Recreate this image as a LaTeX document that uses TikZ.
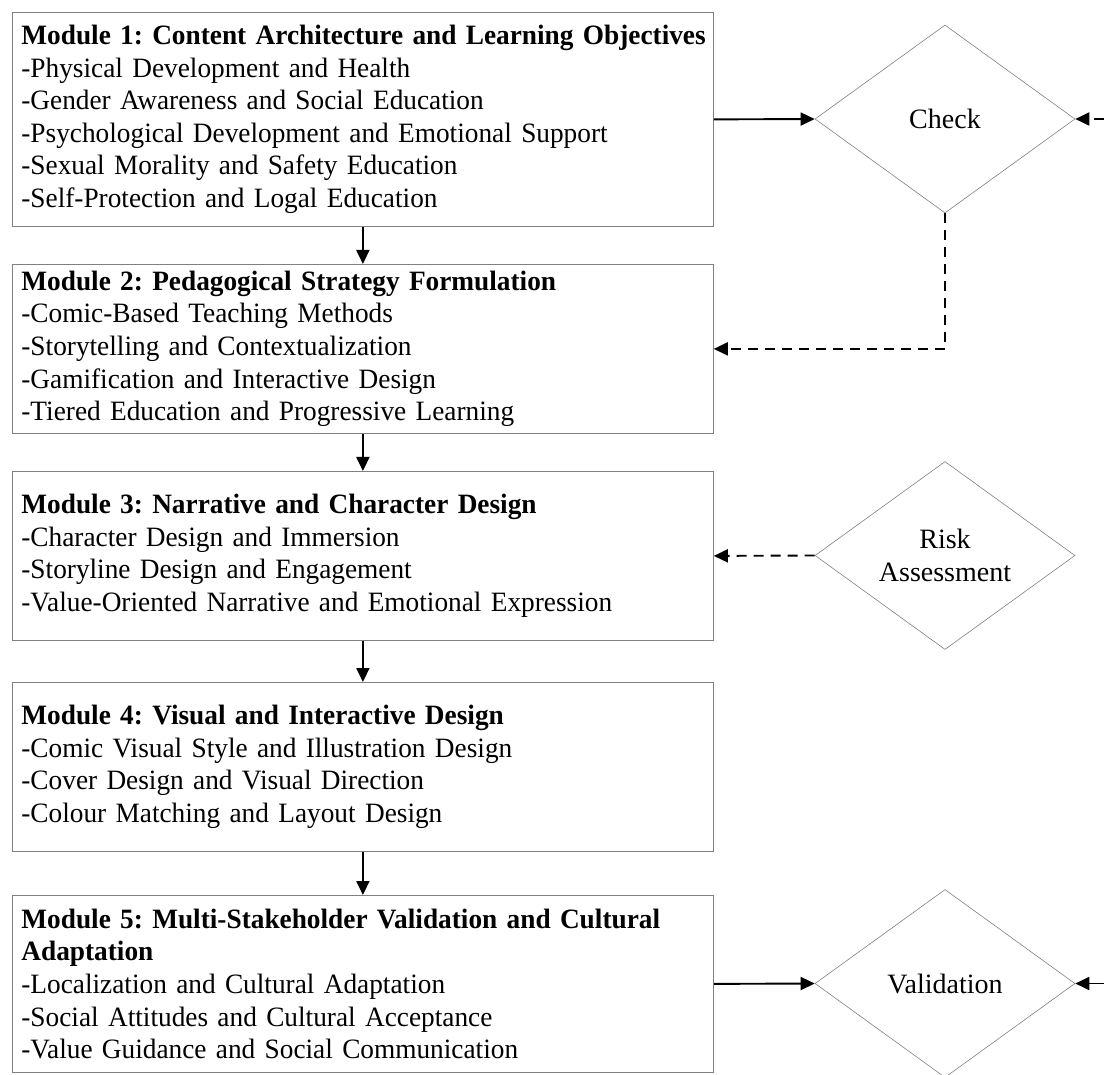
\documentclass[tikz,border=0pt]{standalone}
\usepackage{fontspec}
\setmainfont{Liberation Serif}
\newfontfamily\modfont{Liberation Serif}[FakeStretch=0.975]
\usetikzlibrary{shapes.geometric,arrows.meta}
\frenchspacing
\tikzset{
    module/.style={draw=gray,line width=0.8pt,anchor=north west,align=left,
        text width=683pt,minimum width=701pt,inner xsep=9pt,inner ysep=0pt,
        font=\modfont\fontsize{28}{32.6}\selectfont},
    gate/.style={diamond,draw=gray,line width=0.6pt,minimum width=260pt,
        minimum height=188pt,inner sep=0pt,aspect=1.4,align=center,
        font=\fontsize{28}{32.6}\selectfont},
    flow/.style={-{Triangle[length=14pt,width=13pt]},line width=1.9pt},
    back/.style={flow,dash pattern=on 10pt off 7pt}
}
\begin{document}
\begin{tikzpicture}[x=1pt,y=-1pt]
                        % \helpgrid{3}{3}
                        \useasboundingbox (0,0) rectangle (1104,1075);
                        \node (M1) at (12,12) [module,minimum height=214pt] {\mbox{\textbf{Module 1: Content Architecture and Learning Objectives}}\\-Physical Development and Health\\-Gender Awareness and Social Education\\-Psychological Development and Emotional Support\\-Sexual Morality and Safety Education\\-Self-Protection and Logal Education};
                        \node (M2) at (12,264) [module,minimum height=169pt] {\textbf{Module 2: Pedagogical Strategy Formulation}\\-Comic-Based Teaching Methods\\-Storytelling and Contextualization\\-Gamification and Interactive Design\\-Tiered Education and Progressive Learning};
                        \node (M3) at (12,471) [module,minimum height=169pt] {\textbf{Module 3: Narrative and Character Design}\\-Character Design and Immersion\\-Storyline Design and Engagement\\-Value-Oriented Narrative and Emotional Expression};
                        \node (M4) at (12,682) [module,minimum height=169pt] {\textbf{Module 4: Visual and Interactive Design}\\-Comic Visual Style and Illustration Design\\-Cover Design and Visual Direction\\-Colour Matching and Layout Design};
                        \node (M5) at (12,895) [module,minimum height=177pt] {\mbox{\textbf{Module 5: Multi-Stakeholder Validation and Cultural}}\\\textbf{Adaptation}\\-Localization and Cultural Adaptation\\-Social Attitudes and Cultural Acceptance\\-Value Guidance and Social Communication};
                        \node (C) at (945,119) [gate] {Check};
                        \node (R) at (945,555.5) [gate] {Risk\\Assessment};
                        \node (V) at (945,983.5) [gate] {Validation};
                        \coordinate (Cin) at (1104,119);
                        \coordinate (Vin) at (1104,983.5);
                        \draw [flow] (M1) -- (M2);
                        \draw [flow] (M2) -- (M3);
                        \draw [flow] (M3) -- (M4);
                        \draw [flow] (M4) -- (M5);
                        \draw [flow] (M1.east) -- (C.west);
                        \draw [flow] (M5.east) -- (V.west);
                        \draw [back] (C.south) |- (M2.east);
                        \draw [back] (R.west) -- (M3.east);
                        \draw [back] (Cin) -- (C.east);
                        \draw [flow] (Vin) -- (V.east);
                    \end{tikzpicture}
\end{document}
